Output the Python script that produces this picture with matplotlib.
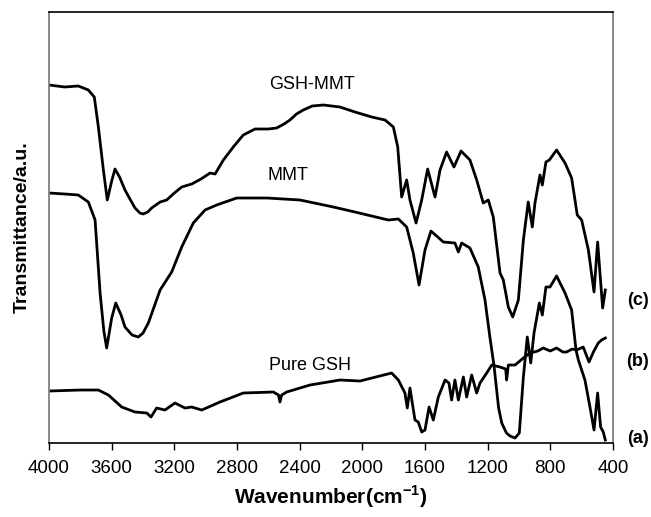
import matplotlib
matplotlib.use('Agg')

import matplotlib.pyplot as plt

plt.rcParams['font.family'] = ['Liberation Sans', 'DejaVu Sans']

# spectra (wavenumber, transmittance in arbitrary units)
wn_c = [4000, 3900, 3813, 3749, 3711, 3685, 3653, 3628, 3600, 3579, 3550, 3515,
        3480, 3451, 3420, 3398, 3370, 3345, 3291, 3249, 3200, 3153, 3089, 3030,
        2972, 2940, 2887, 2824, 2760, 2685, 2600, 2547, 2500, 2462, 2420, 2377,
        2320, 2249, 2143, 2047, 1940, 1855, 1802, 1774, 1749,
        1717, 1696, 1657, 1621, 1583, 1536, 1504, 1462, 1415, 1370, 1313, 1270,
        1228, 1196, 1164, 1121, 1100, 1068, 1040, 1004, 972, 941, 915, 898, 866,
        851, 828, 806, 760, 706, 664, 628, 600, 557, 521, 498, 483, 466, 449]
tr_c = [358, 356, 357, 353, 346, 316, 273, 243, 262, 274, 266, 253,
        243, 235, 230, 229, 231, 235, 241, 243, 250, 256, 259, 264,
        270, 269, 283, 296, 308, 314, 314, 315, 319, 323, 329, 333,
        337, 338, 336, 331, 326, 323, 316, 296, 246,
        263, 243, 220, 243, 274, 246, 273, 291, 276, 292, 283, 263,
        240, 243, 226, 170, 163, 136, 126, 143, 203, 241, 216, 240, 268,
        258, 281, 283, 293, 280, 265, 228, 223, 193, 151, 201, 170, 135, 153]

wn_b = [4000, 3900, 3813, 3749, 3706, 3674, 3650, 3632, 3600, 3574, 3540, 3515,
        3470, 3430, 3400, 3366, 3291, 3217, 3153, 3079, 3004, 2930, 2802, 2610,
        2398, 2185, 2047, 1834, 1770, 1717, 1675, 1638, 1600, 1562, 1483, 1409,
        1387, 1366, 1313, 1260, 1217, 1185, 1160, 1130, 1110, 1080, 1057, 1025,
        998, 972, 947, 925, 904, 870, 851, 828, 802, 760, 706, 664, 636, 621,
        579, 547, 521, 498, 479, 462, 449]
tr_b = [250, 249, 248, 241, 223, 150, 112, 95, 125, 140, 128, 116,
        108, 106, 110, 120, 153, 171, 196, 220, 233, 238, 245, 245,
        243, 236, 231, 223, 224, 216, 190, 158, 193, 212, 201, 200,
        191, 200, 195, 176, 143, 105, 78, 35, 20, 10, 7, 5,
        10, 66, 106, 80, 110, 140, 128, 156, 156, 167, 150, 133, 93, 83,
        63, 36, 13, 50, 16, 11, 3]

wn_a = [4000, 3800, 3685, 3621, 3536, 3451, 3376, 3349, 3313, 3260, 3196, 3132,
        3089, 3025, 2909, 2760, 2568, 2535, 2526, 2515, 2483, 2334, 2143, 2015,
        1813, 1770, 1728, 1713, 1696, 1664, 1643, 1621, 1600, 1574, 1547, 1515,
        1472, 1447, 1430, 1409, 1387, 1355, 1334, 1302, 1270, 1249, 1206, 1174,
        1121, 1085, 1079, 1068, 1025, 972, 930, 880, 845, 800, 760, 720, 696,
        660, 632, 590, 553, 525, 494, 473, 449]
tr_a = [52, 53, 53, 48, 36, 31, 30, 26, 35, 33, 40, 35,
        36, 33, 41, 50, 51, 48, 41, 48, 51, 58, 63, 62,
        70, 63, 50, 35, 55, 23, 21, 11, 13, 36, 23, 46,
        63, 60, 43, 63, 43, 66, 46, 68, 50, 60, 70, 78,
        76, 74, 63, 78, 78, 85, 90, 92, 95, 92, 95, 91, 91,
        94, 93, 96, 81, 91, 100, 103, 105]

curve_names = ['GSH-MMT', 'MMT', 'Pure GSH']
curve_tags = ['(c)', '(b)', '(a)']
xticks = [4000, 3600, 3200, 2800, 2400, 2000, 1600, 1200, 800, 400]

fig = plt.figure(figsize=(6.51, 5.17), dpi=100)
ax = fig.add_axes([0.0753, 0.1431, 0.8663, 0.8337])

for wn, tr in [(wn_c, tr_c), (wn_b, tr_b), (wn_a, tr_a)]:
    ax.plot(wn, tr, color='black', lw=2.0, solid_joinstyle='round')

ax.set_xlim(4000, 400)
ax.set_ylim(0, 431)
ax.set_xticks(xticks)
ax.set_xticklabels([str(t) for t in xticks])
ax.set_yticks([])
ax.tick_params(axis='x', direction='out', length=5, width=1, labelsize=13.5, pad=7)

for side in ['left', 'right']:
    ax.spines[side].set_color('#808080')
    ax.spines[side].set_linewidth(1.3)
for side in ['top', 'bottom']:
    ax.spines[side].set_color('black')
    ax.spines[side].set_linewidth(1.2)

ax.set_xlabel('Wavenumber(cm$^{\\mathregular{-1}}$)', fontsize=15, fontweight='bold', labelpad=5)
ax.set_ylabel('Transmittance/a.u.', fontsize=14, fontweight='bold', labelpad=13)

# curve names
ax.text(2323, 358, curve_names[0], fontsize=13, ha='center', va='center')
ax.text(2474, 268, curve_names[1], fontsize=13, ha='center', va='center')
ax.text(2334, 78, curve_names[2], fontsize=13, ha='center', va='center')

# tags at the right edge
for tag, fy in zip(curve_tags, [0.418, 0.300, 0.151]):
    fig.text(0.980, fy, tag, fontsize=13, fontweight='bold', ha='center', va='center')

plt.savefig('out.png', dpi=100)
